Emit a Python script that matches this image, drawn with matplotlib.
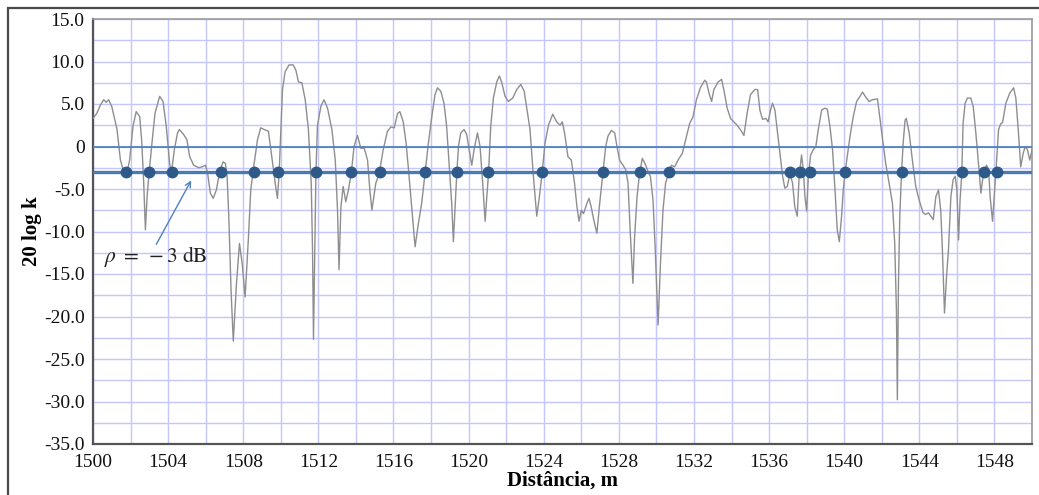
import numpy as np
import matplotlib
matplotlib.use('Agg')
import matplotlib.pyplot as plt
from matplotlib.patches import Rectangle
from matplotlib.ticker import MultipleLocator, FuncFormatter

plt.rcParams['font.family'] = ['Liberation Serif', 'DejaVu Serif']
plt.rcParams['mathtext.fontset'] = 'stix'

# distance along the route, m
dist = [
    1500.0, 1500.2, 1500.4, 1500.57, 1500.7, 1500.83, 1501.0, 1501.28, 1501.46, 1501.63,
    1501.8, 1501.95, 1502.13, 1502.3, 1502.49, 1502.6, 1502.7, 1502.79, 1502.88, 1502.97,
    1503.14, 1503.3, 1503.55, 1503.73, 1503.9, 1504.08, 1504.17, 1504.33, 1504.5, 1504.6,
    1504.83, 1505.0, 1505.15, 1505.36, 1505.63, 1505.8, 1505.99, 1506.1, 1506.25, 1506.4,
    1506.57, 1506.75, 1506.93, 1507.05, 1507.14, 1507.23, 1507.35, 1507.47, 1507.64, 1507.8,
    1507.94, 1508.1, 1508.28, 1508.4, 1508.58, 1508.76, 1508.93, 1509.11, 1509.34, 1509.52,
    1509.7, 1509.82, 1509.91, 1510.0, 1510.09, 1510.23, 1510.44, 1510.66, 1510.8, 1510.94,
    1511.12, 1511.3, 1511.47, 1511.62, 1511.69, 1511.74, 1511.81, 1511.87, 1511.95, 1512.13,
    1512.3, 1512.49, 1512.72, 1512.9, 1513.02, 1513.1, 1513.2, 1513.32, 1513.46, 1513.6,
    1513.75, 1513.9, 1514.08, 1514.26, 1514.44, 1514.62, 1514.74, 1514.85, 1515.06, 1515.24,
    1515.45, 1515.68, 1515.86, 1516.04, 1516.22, 1516.34, 1516.52, 1516.67, 1516.8, 1516.97,
    1517.15, 1517.33, 1517.5, 1517.68, 1517.86, 1518.04, 1518.21, 1518.34, 1518.52, 1518.69,
    1518.83, 1518.98, 1519.1, 1519.19, 1519.28, 1519.37, 1519.46, 1519.58, 1519.76, 1519.9,
    1520.03, 1520.17, 1520.29, 1520.47, 1520.61, 1520.75, 1520.88, 1520.97, 1521.06, 1521.18,
    1521.32, 1521.5, 1521.64, 1521.77, 1521.94, 1522.12, 1522.35, 1522.56, 1522.78, 1522.96,
    1523.1, 1523.27, 1523.45, 1523.63, 1523.77, 1523.91, 1524.07, 1524.25, 1524.48, 1524.69,
    1524.87, 1524.99, 1525.11, 1525.29, 1525.47, 1525.64, 1525.77, 1525.88, 1526.0, 1526.12,
    1526.3, 1526.41, 1526.53, 1526.66, 1526.83, 1526.98, 1527.15, 1527.3, 1527.42, 1527.6,
    1527.78, 1527.9, 1528.04, 1528.22, 1528.36, 1528.49, 1528.61, 1528.75, 1528.84, 1528.97,
    1529.1, 1529.25, 1529.39, 1529.55, 1529.68, 1529.82, 1529.94, 1530.09, 1530.21, 1530.35,
    1530.49, 1530.64, 1530.8, 1530.97, 1531.15, 1531.38, 1531.56, 1531.77, 1531.95, 1532.13,
    1532.34, 1532.57, 1532.66, 1532.8, 1532.94, 1533.06, 1533.29, 1533.47, 1533.59, 1533.77,
    1533.95, 1534.12, 1534.3, 1534.53, 1534.66, 1534.83, 1535.01, 1535.24, 1535.39, 1535.51,
    1535.65, 1535.83, 1535.95, 1536.08, 1536.18, 1536.31, 1536.43, 1536.58, 1536.72, 1536.84,
    1536.97, 1537.11, 1537.25, 1537.37, 1537.5, 1537.6, 1537.73, 1537.82, 1537.91, 1538.0,
    1538.09, 1538.21, 1538.35, 1538.49, 1538.62, 1538.8, 1538.97, 1539.1, 1539.24, 1539.38,
    1539.51, 1539.63, 1539.74, 1539.86, 1539.95, 1540.04, 1540.16, 1540.31, 1540.48, 1540.66,
    1540.84, 1540.98, 1541.15, 1541.33, 1541.5, 1541.77, 1541.89, 1542.04, 1542.21, 1542.39,
    1542.57, 1542.69, 1542.78, 1542.83, 1542.89, 1542.96, 1543.05, 1543.14, 1543.24, 1543.31,
    1543.46, 1543.63, 1543.81, 1543.99, 1544.2, 1544.34, 1544.49, 1544.61, 1544.74, 1544.88,
    1545.02, 1545.14, 1545.23, 1545.34, 1545.45, 1545.55, 1545.68, 1545.8, 1545.91, 1546.0,
    1546.09, 1546.17, 1546.26, 1546.33, 1546.44, 1546.56, 1546.74, 1546.87, 1547.01, 1547.15,
    1547.28, 1547.37, 1547.47, 1547.58, 1547.69, 1547.77, 1547.9, 1547.99, 1548.07, 1548.22,
    1548.34, 1548.43, 1548.61, 1548.82, 1549.02, 1549.14, 1549.28, 1549.4, 1549.53, 1549.64,
    1549.76, 1549.88, 1550.0,
]

# 20 log k, dB
level = [
    3.3, 3.9, 4.9, 5.5, 5.2, 5.5, 4.7, 2.0, -1.6, -2.9,
    -3.2, -1.6, 2.4, 4.1, 3.5, 0.4, -4.3, -9.8, -5.9, -3.5,
    0.4, 3.9, 5.9, 5.3, 2.4, -2.0, -3.2, -0.4, 1.6, 2.0,
    1.4, 0.8, -1.2, -2.2, -2.5, -2.4, -2.2, -3.1, -5.5, -6.1,
    -5.1, -2.9, -1.8, -2.0, -3.5, -8.2, -16.9, -22.9, -16.1, -11.4,
    -13.7, -17.7, -10.6, -5.1, -2.0, 0.8, 2.2, 2.0, 1.8, -1.2,
    -4.3, -6.1, -3.2, 1.6, 6.7, 8.8, 9.6, 9.6, 9.0, 7.6,
    7.5, 5.5, 2.0, -4.3, -12.2, -22.7, -12.2, -3.2, 2.4, 4.7,
    5.5, 4.5, 2.0, -1.6, -7.5, -14.5, -7.1, -4.7, -6.5, -5.1,
    -3.2, 0.0, 1.3, -0.2, -0.2, -1.6, -5.1, -7.5, -4.3, -3.2,
    -0.4, 1.8, 2.3, 2.2, 3.9, 4.1, 2.9, 0.4, -2.7, -7.1,
    -11.8, -9.0, -6.7, -3.2, 0.4, 3.5, 6.1, 6.9, 6.5, 5.1,
    2.4, -2.7, -6.7, -11.2, -7.1, -3.2, 0.0, 1.6, 2.0, 1.4,
    -0.4, -2.2, -0.4, 1.6, 0.0, -4.3, -8.8, -5.9, -3.2, 2.4,
    5.7, 7.6, 8.3, 7.5, 5.9, 5.3, 5.7, 6.7, 7.3, 6.5,
    4.5, 2.0, -3.5, -8.2, -5.9, -3.2, 0.4, 2.5, 3.8, 2.9,
    2.5, 2.9, 1.6, -1.2, -1.6, -4.3, -7.1, -8.8, -7.5, -7.9,
    -6.7, -6.1, -7.1, -8.6, -10.2, -6.7, -3.2, 0.0, 1.2, 1.9,
    1.6, 0.0, -1.6, -2.2, -2.7, -4.3, -10.2, -16.1, -10.6, -5.9,
    -3.2, -1.4, -2.0, -2.9, -3.5, -6.3, -12.2, -21.0, -14.1, -7.5,
    -4.3, -3.2, -2.2, -2.4, -1.6, -0.8, 0.8, 2.7, 3.5, 5.5,
    6.9, 7.8, 7.6, 6.3, 5.3, 6.7, 7.6, 7.9, 6.7, 4.5,
    3.3, 2.9, 2.5, 1.8, 1.3, 3.9, 6.1, 6.7, 6.7, 4.3,
    3.2, 3.3, 2.9, 4.3, 5.1, 4.3, 2.0, -0.8, -3.5, -4.9,
    -4.7, -3.2, -4.3, -7.1, -8.2, -3.5, -1.0, -2.7, -5.9, -7.6,
    -3.5, -1.0, -0.4, 0.0, 2.0, 4.3, 4.5, 4.4, 2.4, -0.4,
    -5.1, -9.8, -11.2, -8.2, -5.1, -3.2, -1.2, 1.2, 3.5, 5.3,
    5.9, 6.4, 5.8, 5.3, 5.5, 5.6, 3.5, 0.8, -2.0, -4.3,
    -6.7, -11.4, -19.2, -29.8, -16.1, -8.2, -3.2, 0.4, 3.1, 3.3,
    1.6, -1.6, -4.7, -6.3, -7.8, -8.0, -7.8, -8.2, -8.6, -5.9,
    -5.1, -7.5, -12.2, -19.6, -15.3, -12.2, -5.9, -3.9, -3.5, -5.1,
    -11.0, -6.3, -3.2, 2.7, 5.1, 5.7, 5.7, 4.7, 1.6, -2.0,
    -5.5, -3.9, -2.9, -2.2, -2.7, -5.9, -8.8, -5.9, -3.2, 2.0,
    2.7, 2.8, 5.1, 6.3, 6.9, 5.7, 1.6, -2.4, -0.8, 0.0,
    -0.4, -1.6, -0.4,
]

# positions of the marked -3 dB crossings
cross_x = [1501.76, 1502.98, 1504.21, 1506.79, 1508.58, 1509.86, 1511.87, 1513.75,
           1515.26, 1517.68, 1519.37, 1521.04, 1523.91, 1527.15, 1529.11, 1530.65,
           1537.11, 1537.64, 1538.17, 1540.04, 1543.07, 1546.26, 1547.47, 1548.13]
rho = -3.0

W, H = 1039, 495
fig = plt.figure(figsize=(W / 100, H / 100), dpi=100)
ax = fig.add_axes([93 / W, 1 - 444 / H, (1032 - 93) / W, (444 - 19) / H])

ax.plot(dist, level, color='#8e8e8e', lw=1.0, zorder=3)
ax.axhline(0, color='#4f81bd', lw=1.3, zorder=4)
ax.axhline(rho, color='#4a7ab5', lw=2.4, zorder=4)
ax.plot(cross_x, [rho] * len(cross_x), 'o', color='#2e5a8a', ms=7.5, zorder=5)

ax.annotate('', xy=(1505.3, -3.7), xytext=(1503.3, -11.8),
            arrowprops=dict(arrowstyle='->', color='#4f81bd', lw=1.0), zorder=6)
ax.text(1500.6, -12.9, r'$\rho\;=\;-3\ \mathrm{dB}$', fontsize=15.5, va='center', ha='left',
        color='#222222', zorder=6)

ax.set_xlim(1500, 1550)
ax.set_ylim(-35, 15)
ax.xaxis.set_major_locator(MultipleLocator(4))
ax.xaxis.set_minor_locator(MultipleLocator(2))
ax.yaxis.set_major_locator(MultipleLocator(5))
ax.yaxis.set_minor_locator(MultipleLocator(2.5))
ax.yaxis.set_major_formatter(FuncFormatter(lambda v, p: '0' if abs(v) < 1e-9 else '%.1f' % v))
ax.grid(True, which='both', color='#c6c6ff', lw=1.0, zorder=0)
ax.set_axisbelow(True)
ax.tick_params(which='both', length=0, labelsize=14, colors='#111111')
ax.tick_params(axis='x', pad=7)
ax.tick_params(axis='y', pad=6)

for s in ['left', 'bottom']:
    ax.spines[s].set_color('#555555')
    ax.spines[s].set_linewidth(1.6)
for s in ['top', 'right']:
    ax.spines[s].set_color('#9a9a9a')
    ax.spines[s].set_linewidth(1.2)

ax.set_xlabel('Distância, m', fontsize=15, fontweight='bold', labelpad=0)
ax.set_ylabel('20 log k', fontsize=15, fontweight='bold', labelpad=1.5)

fig.add_artist(Rectangle((8 / W, -0.1), 1.2, 1.1 - 8 / H, transform=fig.transFigure,
                         fill=False, edgecolor='#4a4a4a', lw=1.6))

fig.savefig('out.png', dpi=100)
